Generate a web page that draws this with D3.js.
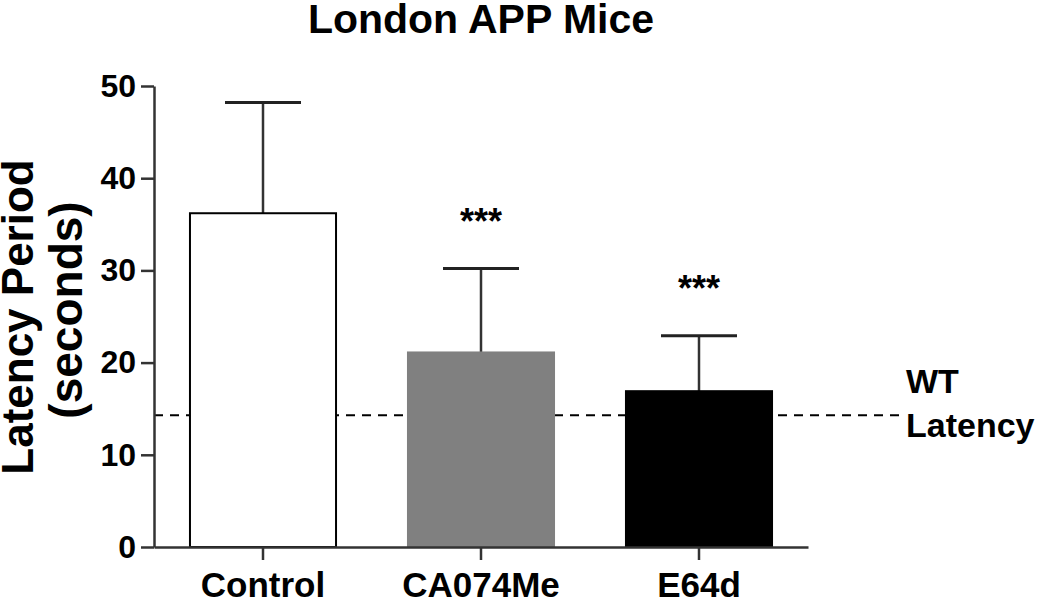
<!DOCTYPE html>
<html>
<head>
<meta charset="utf-8">
<script src="https://cdn.jsdelivr.net/npm/d3@7"></script>
<style>
  html, body { margin: 0; padding: 0; background: #fff; }
  svg { display: block; font-family: "Liberation Sans", Arial, Helvetica, sans-serif; }
</style>
</head>
<body>
<svg id="chart" width="1050" height="602"></svg>
<script>
const categories = ["Control", "CA074Me", "E64d"];
const means = [36.2, 21.1, 16.9];
const errors = [12.0, 9.1, 6.0];
const significance = ["", "***", "***"];
const barFills = ["#ffffff", "#808080", "#000000"];
const yTicks = [0, 10, 20, 30, 40, 50];
const wtLatency = 14.3;
const titleText = "London APP Mice";
const yTitleLines = ["Latency Period", "(seconds)"];
const wtLabelLines = ["WT", "Latency"];

const svg = d3.select("#chart");

const x = d3.scaleBand()
  .domain(categories)
  .range([154, 808])
  .paddingInner(0.33)
  .paddingOuter(0.165);

const y = d3.scaleLinear().domain([0, 50]).range([547, 86]);

// Title
svg.append("text")
  .attr("x", 481).attr("y", 33)
  .attr("text-anchor", "middle")
  .attr("font-size", 41).attr("font-weight", "bold")
  .text(titleText);

// Y title
const yt = svg.append("text")
  .attr("transform", "rotate(-90)")
  .attr("text-anchor", "middle")
  .attr("font-weight", "bold");
yt.append("tspan").attr("x", -317).attr("y", 33).attr("font-size", 44).text(yTitleLines[0]);
yt.append("tspan").attr("x", -310).attr("y", 82).attr("font-size", 46).text(yTitleLines[1]);

// Dashed WT latency line (behind bars)
svg.append("line")
  .attr("x1", 154).attr("x2", 903)
  .attr("y1", y(wtLatency)).attr("y2", y(wtLatency))
  .attr("stroke", "#000").attr("stroke-width", 2)
  .attr("stroke-dasharray", "9,7");

// Error bars
const eb = svg.append("g");
categories.forEach((c, i) => {
  const cx = x(c) + x.bandwidth() / 2;
  eb.append("line")
    .attr("x1", cx).attr("x2", cx)
    .attr("y1", y(means[i])).attr("y2", y(means[i] + errors[i]))
    .attr("stroke", "#333").attr("stroke-width", 2.5);
  eb.append("line")
    .attr("x1", cx - 38).attr("x2", cx + 38)
    .attr("y1", y(means[i] + errors[i])).attr("y2", y(means[i] + errors[i]))
    .attr("stroke", "#222").attr("stroke-width", 3);
});

// Bars
svg.append("g").selectAll("rect")
  .data(categories)
  .join("rect")
  .attr("x", d => x(d))
  .attr("y", (d, i) => y(means[i]))
  .attr("width", x.bandwidth())
  .attr("height", (d, i) => y(0) - y(means[i]))
  .attr("fill", (d, i) => barFills[i])
  .attr("stroke", (d, i) => i === 0 ? "#000" : barFills[i])
  .attr("stroke-width", 2);

// Significance stars
svg.append("g").selectAll("text")
  .data(categories)
  .join("text")
  .attr("x", d => x(d) + x.bandwidth() / 2)
  .attr("y", (d, i) => y(means[i] + errors[i]) - 35)
  .attr("text-anchor", "middle")
  .attr("font-size", 36)
  .attr("font-weight", "bold")
  .text((d, i) => significance[i]);

// Y axis
const yAxis = svg.append("g")
  .attr("transform", "translate(154,0)")
  .call(d3.axisLeft(y).tickValues(yTicks).tickSize(13).tickSizeOuter(0).tickPadding(5));
yAxis.select(".domain").attr("stroke", "#333").attr("stroke-width", 2.5);
yAxis.selectAll(".tick line").attr("stroke", "#333").attr("stroke-width", 2.5);
yAxis.selectAll(".tick text")
  .attr("font-size", 32).attr("font-weight", "bold")
  .attr("font-family", "Liberation Sans, Arial, sans-serif")
  .attr("fill", "#000");

// X axis
const xAxis = svg.append("g")
  .attr("transform", "translate(0,547)")
  .call(d3.axisBottom(x).tickSize(13).tickSizeOuter(0).tickPadding(12));
xAxis.select(".domain").attr("stroke", "#333").attr("stroke-width", 2.5);
xAxis.selectAll(".tick line").attr("stroke", "#333").attr("stroke-width", 2.5);
xAxis.selectAll(".tick text")
  .attr("font-size", 35).attr("font-weight", "bold")
  .attr("font-family", "Liberation Sans, Arial, sans-serif")
  .attr("fill", "#000");

// WT label
const wt = svg.append("text")
  .attr("font-size", 34).attr("font-weight", "bold");
wt.append("tspan").attr("x", 906).attr("y", 393).text(wtLabelLines[0]);
wt.append("tspan").attr("x", 906).attr("y", 437).text(wtLabelLines[1]);
</script>
</body>
</html>
